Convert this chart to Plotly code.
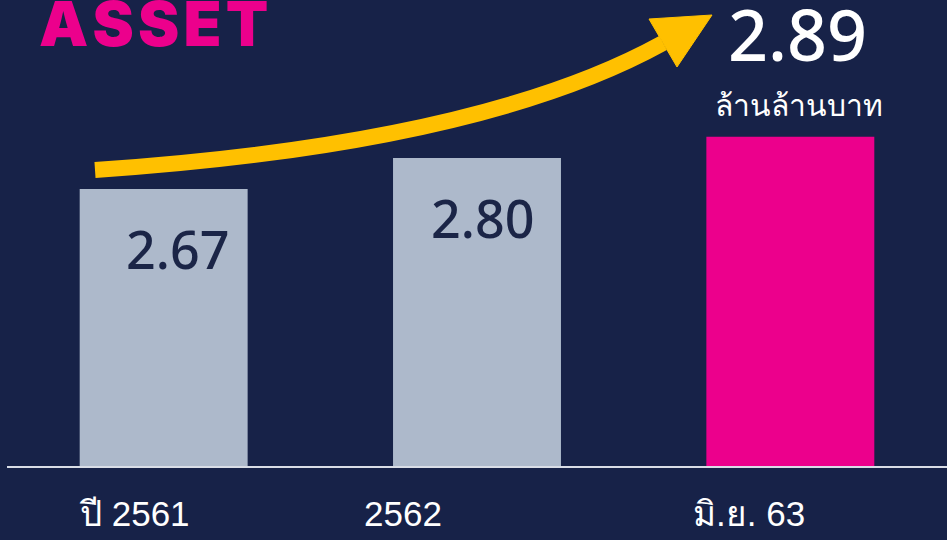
import plotly.graph_objects as go

# data
categories = ["ปี 2561", "2562", "มิ.ย. 63"]
values = [2.67, 2.80, 2.89]
value_text = ["2.67", "2.80", "2.89"]
bar_colors = ["#adb9cb", "#adb9cb", "#ec008c"]
unit_label = "ล้านล้านบาท"
title_text = "ASSET"

BG = "#172248"
W, H = 947, 540
L, B = 7, 74  # plot area margins (px)
PW, PH = W - L, H - B


def px(x, y):
    # page pixel -> paper coords
    return (x - L) / PW, (H - B - y) / PH


fig = go.Figure(go.Bar(
    x=categories,
    y=values,
    marker=dict(color=bar_colors, line_width=0),
    hoverinfo="skip",
))

# yellow curved arrow
p0, c, p2 = px(95, 170), px(480, 144), px(663, 43)
fig.add_shape(type="path", xref="paper", yref="paper",
              path=f"M {p0[0]},{p0[1]} Q {c[0]},{c[1]} {p2[0]},{p2[1]}",
              line=dict(color="#ffc000", width=16))
a, b, t = px(649, 19), px(677, 67), px(712, 15)
fig.add_shape(type="path", xref="paper", yref="paper",
              path=f"M {a[0]},{a[1]} L {t[0]},{t[1]} L {b[0]},{b[1]} Z",
              fillcolor="#ffc000", line=dict(color="#ffc000", width=1))

# category labels under bars (index positions, left-anchored)
shifts = [-3, -31, -15]
for i, (cat, s) in enumerate(zip(categories, shifts)):
    fig.add_annotation(x=i, y=0, yref="paper", xref="x", text=cat,
                       xanchor="left", yanchor="middle", xshift=s - 84, yshift=-47,
                       showarrow=False,
                       font=dict(family="Liberation Sans", size=35, color="white"))

# value labels inside the grey bars
label_dx = [14, 5]
for i, (v, txt) in enumerate(zip(values[:2], value_text[:2])):
    fig.add_annotation(x=i, y=v, text=txt, showarrow=False,
                       xshift=label_dx[i], yshift=-59, yanchor="middle",
                       font=dict(family="Noto Sans", size=52, color="#1b2547", weight=500))

# highlighted last value
fig.add_annotation(x=2, y=values[2], text=value_text[2], showarrow=False,
                   xshift=7, yshift=103, yanchor="middle",
                   font=dict(family="Noto Sans", size=70, color="white", weight=500))
fig.add_annotation(x=2, y=values[2], text=unit_label, showarrow=False,
                   xshift=9, yshift=32, yanchor="middle",
                   font=dict(family="Noto Sans", size=30, color="white"))

# title, partly cut at the top edge
tx, ty = px(37, -16)
fig.add_annotation(x=tx, y=ty, xref="paper", yref="paper",
                   text="\u200a".join(title_text),
                   showarrow=False, xanchor="left", yanchor="top",
                   font=dict(family="Inter", size=62, color="#ec008c", weight=900))

fig.update_layout(
    width=W, height=H,
    margin=dict(l=L, r=0, t=0, b=B),
    paper_bgcolor=BG, plot_bgcolor=BG,
    bargap=0.464,
    showlegend=False,
    xaxis=dict(showticklabels=False, showgrid=False, zeroline=False,
               showline=True, linecolor="#d9dde6", linewidth=2,
               range=[-0.5, 2.5]),
    yaxis=dict(range=[1.509, 3.463], visible=False),
)

fig.write_html("out.html", config={"displayModeBar": False},
               post_script="document.body.style.margin='0';")
